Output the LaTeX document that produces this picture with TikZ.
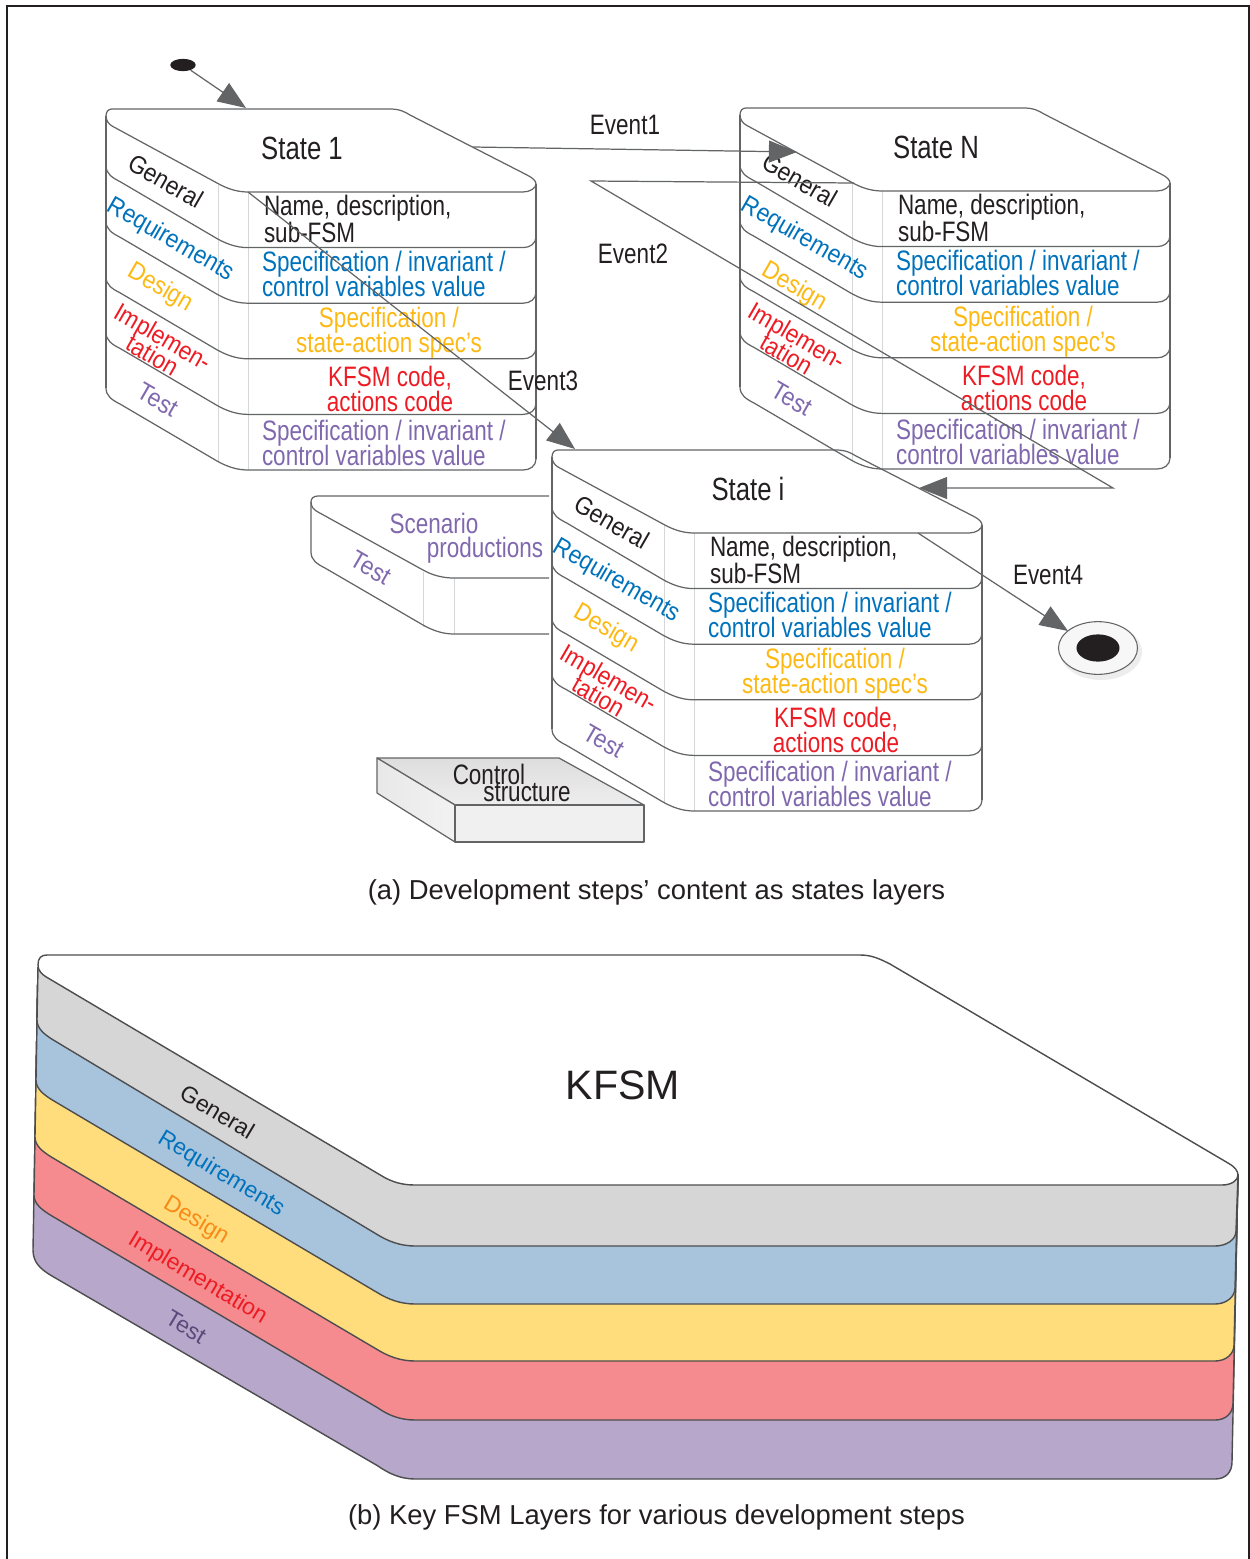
\documentclass[tikz,border=0pt]{standalone}
\usepackage{fontspec}
\usetikzlibrary{arrows.meta,shapes.geometric}
\setmainfont{Liberation Sans}
\newfontfamily\nar[FakeStretch=0.8]{Liberation Sans}
\newfontfamily\narb[FakeStretch=0.9]{Liberation Sans}
\definecolor{inkk}{HTML}{231F20}
\definecolor{lblue}{HTML}{0072BC}
\definecolor{lorange}{HTML}{FDB913}
\definecolor{lred}{HTML}{ED1C24}
\definecolor{lpurple}{HTML}{8068AE}
\definecolor{outl}{HTML}{636466}
\definecolor{vline}{HTML}{D5D6D8}
\definecolor{arrowg}{HTML}{636466}
\definecolor{dark}{HTML}{4D4D4F}
\definecolor{bgray}{HTML}{D6D6D6}
\definecolor{bblue}{HTML}{A8C4DD}
\definecolor{byellow}{HTML}{FFDD7C}
\definecolor{bred}{HTML}{F68B8F}
\definecolor{bpurple}{HTML}{B6A7CB}
\tikzset{
  x=0.02cm,y=-0.02cm,
  outline/.style={draw=outl,line width=0.7pt,line join=round},
  vrule/.style={draw=vline,line width=0.55pt},
  txt/.style={inner sep=0pt,outer sep=0pt,font=\nar\fontsize{16}{14.2}\selectfont,text=inkk,align=left},
  titletxt/.style={txt,font=\nar\fontsize{18.3}{18.3}\selectfont},
  lay/.style={inner sep=0pt,outer sep=0pt,rotate=-30,font=\narb\fontsize{14.4}{14.4}\selectfont},
  blay/.style={inner sep=0pt,outer sep=0pt,rotate=-31,font=\fontsize{13.1}{13.1}\selectfont},
  captiontxt/.style={inner sep=0pt,outer sep=0pt,text=inkk,font=\fontsize{15.6}{16}\selectfont},
  conn/.style={draw=arrowg,line width=0.7pt,-{Triangle[length=16pt,width=12.5pt]}},
  band/.style={draw=dark,line width=0.8pt,line join=round},
}
\newcommand{\stateblock}[4]{%
\begin{scope}[shift={(#2,#3)},name prefix=#1-]
  \coordinate (o) at (0,0);
  \coordinate (top) at (140,-2);
  \coordinate (in) at (23,-2);
  \coordinate (edge) at (367,37);
  \coordinate (front) at (142,82);
  \coordinate (hit) at (57,43);
  \coordinate (start) at (114,74);
  \coordinate (out) at (366,82);
  \draw[vrule] (112,75) -- (112,352);
  \draw[vrule] (142,82) -- (142,360);
  \path[outline] (0,6) .. controls (0,2) and (2,-1) .. (6,-1) -- (284,-1)
     .. controls (294,-1) and (299,2) .. (304,5) -- (421,65)
     .. controls (427,68) and (430,71) .. (430,74)
     .. controls (430,78) and (424,82) .. (417,82) -- (142,82)
     .. controls (130,82) and (120,78) .. (111,73) -- (6,16)
     .. controls (3,14) and (0,11) .. (0,6) -- cycle;
  \path[outline] (0,6) -- (0,278) (430,74) -- (430,349);
  \foreach \d in {55.6,111.2,166.8,222.4,278}{
    \path[outline,shift={(0,\d)}] (0,0) .. controls (0,8) and (6,12) .. (14,16) -- (111,73)
      .. controls (120,78) and (130,82) .. (142,82) -- (417,82)
      .. controls (424,82) and (430,78) .. (430,71);
  }
  \node[titletxt] (title) at (196,38) {#4};
  \node[lay,text=inkk] (lg) at (60,71) {General};
  \node[lay,text=lblue] (lr) at (64.5,130) {Requirements};
  \node[lay,text=lorange] (ld) at (54,178) {Design};
  \node[lay,text=lred] (li) at (56,229) {Implemen-};
  \node[lay,text=lred] (lt) at (47,245) {tation};
  \node[lay,text=lpurple] (ls) at (52,290) {Test};
  \node[txt,anchor=west] (c1) at (158,108.5) {Name, description,\\[-0.6pt]sub-FSM};
  \node[txt,anchor=west,text=lblue] (c2) at (156,164) {Specification / invariant /\\[-1.7pt]control variables value};
  \node[txt,align=center,text=lorange] (c3) at (283,223) {Specification /\\[-1.7pt]state-action spec’s};
  \node[txt,align=center,text=lred] (c4) at (284,278.5) {KFSM code,\\[0pt]actions code};
  \node[txt,anchor=west,text=lpurple] (c5) at (156,332.5) {Specification / invariant /\\[-1.7pt]control variables value};
\end{scope}}
\begin{document}
\begin{tikzpicture}
\useasboundingbox (0,0) rectangle (1250,1559);
\draw[draw=inkk,line width=0.9pt] (7,1565) -- (7,6) -- (1249,6) -- (1249,1565);
% part (a)
\stateblock{s1}{106}{110}{State 1}
\stateblock{sn}{740}{109}{State N}
\stateblock{si}{552}{451}{State i}
% initial and final
\node[ellipse,fill=inkk,draw=none,inner sep=0pt,minimum width=14.5pt,minimum height=7pt] (ini) at (183,65) {};
\fill[black!10,opacity=.7] (1101,652) ellipse (41 and 28);
\node[ellipse,draw=outl,line width=0.6pt,fill=black!3,inner sep=0pt,minimum width=45pt,minimum height=30pt] (fin) at (1098,648) {};
\node[ellipse,fill=inkk,inner sep=0pt,minimum width=24.5pt,minimum height=15.5pt] (fincore) at (1098,648) {};
\coordinate (e2a) at (591,181);
\coordinate (e2b) at (1113,488);
\coordinate (finhit) at (1068,631);
\draw[conn] (ini) -- (s1-top);
\draw[conn] (s1-edge) -- (sn-hit);
\draw[conn] (sn-start) -- (e2a) -- (e2b) -- (si-edge);
\draw[conn] (s1-front) -- (si-in);
\draw[conn] (si-out) -- (finhit);
\node[txt] (ev1) at (625,125) {Event1};
\node[txt] (ev2) at (633,254) {Event2};
\node[txt] (ev3) at (543,381) {Event3};
\node[txt] (ev4) at (1048,575) {Event4};
% scenario block
\draw[vrule] (423,572) -- (423,627);
\draw[vrule] (454,578) -- (454,634);
\path[outline] (549,496) -- (318,496) .. controls (314,496) and (311,498) .. (311,502)
  .. controls (311,507) and (314,510) .. (318,512) -- (423,570)
  .. controls (432,575) and (442,578) .. (454,578) -- (549,578);
\path[outline] (311,502) -- (311,552) .. controls (311,560) and (317,564) .. (325,568) -- (423,625)
  .. controls (432,630) and (442,634) .. (454,634) -- (549,634);
\node[txt,text=lpurple] (sc1) at (434,523.5) {Scenario};
\node[txt,text=lpurple] (sc2) at (485,550) {productions};
\node[lay,text=lpurple] (sc3) at (371,568) {Test};
% control structure
\path[draw=outl,line width=0.7pt,top color=black!13,bottom color=black!7,line join=round] (377,758) -- (559,758) -- (644,805) -- (455,805) -- cycle;
\path[draw=outl,line width=0.7pt,left color=black!9,right color=black!5,line join=round] (377,758) -- (455,805) -- (455,842) -- (377,793) -- cycle;
\path[draw=outl,line width=0.7pt,fill=black!6,line join=round] (455,805) -- (644,805) -- (644,842) -- (455,842) -- cycle;
\node[txt] (cs1) at (489,774) {Control};
\node[txt] (cs2) at (527,793) {structure};
\node[captiontxt] (capa) at (656.5,892) {(a) Development steps’ content as states layers};
% part (b)
\path[band,fill=bpurple] (38,968) -- (33,1250) .. controls (33,1262) and (40,1269) .. (52,1276)
  -- (378,1466) .. controls (388,1473) and (400,1479) .. (415,1479) -- (1215,1479)
  .. controls (1226,1479) and (1232,1472) .. (1232,1462) -- (1238,1175) -- cycle;
\path[band,fill=bred] (38,968) -- (34,1195) .. controls (34,1204) and (42,1210) .. (52,1216)
  -- (378,1408) .. controls (388,1415) and (400,1420) .. (415,1420) -- (1215,1420)
  .. controls (1226,1420) and (1233,1413) .. (1233,1403) -- (1238,1175) -- cycle;
\path[band,fill=byellow] (38,968) -- (35,1137) .. controls (35,1146) and (43,1152) .. (53,1158)
  -- (378,1350) .. controls (388,1356) and (400,1361) .. (415,1361) -- (1215,1361)
  .. controls (1226,1361) and (1234,1354) .. (1234,1345) -- (1238,1175) -- cycle;
\path[band,fill=bblue] (38,968) -- (36,1080) .. controls (36,1089) and (44,1095) .. (54,1101)
  -- (378,1293) .. controls (388,1299) and (400,1304) .. (415,1304) -- (1215,1304)
  .. controls (1226,1304) and (1235,1297) .. (1235,1288) -- (1238,1175) -- cycle;
\path[band,fill=bgray] (38,968) -- (37,1020) .. controls (37,1029) and (45,1035) .. (55,1041)
  -- (378,1235) .. controls (388,1241) and (400,1246) .. (415,1246) -- (1215,1246)
  .. controls (1226,1246) and (1236,1240) .. (1236,1231) -- (1238,1175) -- cycle;
\path[band,fill=white] (38,965) .. controls (38,958) and (41,955) .. (47,955) -- (860,955)
  .. controls (872,955) and (880,959) .. (890,964) -- (1228,1163)
  .. controls (1235,1167) and (1238,1171) .. (1238,1175)
  .. controls (1238,1180) and (1232,1185) .. (1222,1185) -- (415,1185)
  .. controls (402,1185) and (392,1182) .. (382,1176) -- (48,978)
  .. controls (41,974) and (38,970) .. (38,965) -- cycle;
\node[inner sep=0pt,text=inkk,font=\fontsize{23.4}{23.4}\selectfont] (kfsm) at (623,1085) {KFSM};
\node[blay,text=inkk] (bg) at (217.5,1112) {General};
\node[blay,text=lblue] (br) at (221,1174) {Requirements};
\node[blay,text=lorange!70!lred] (bd) at (196,1221) {Design};
\node[blay,text=lred] (bi) at (197.5,1278.5) {Implementation};
\node[blay,text=lpurple!70!black] (bt) at (186,1327) {Test};
\node[captiontxt] (capb) at (656.5,1517) {(b) Key FSM Layers for various development steps};
\end{tikzpicture}
\end{document}
